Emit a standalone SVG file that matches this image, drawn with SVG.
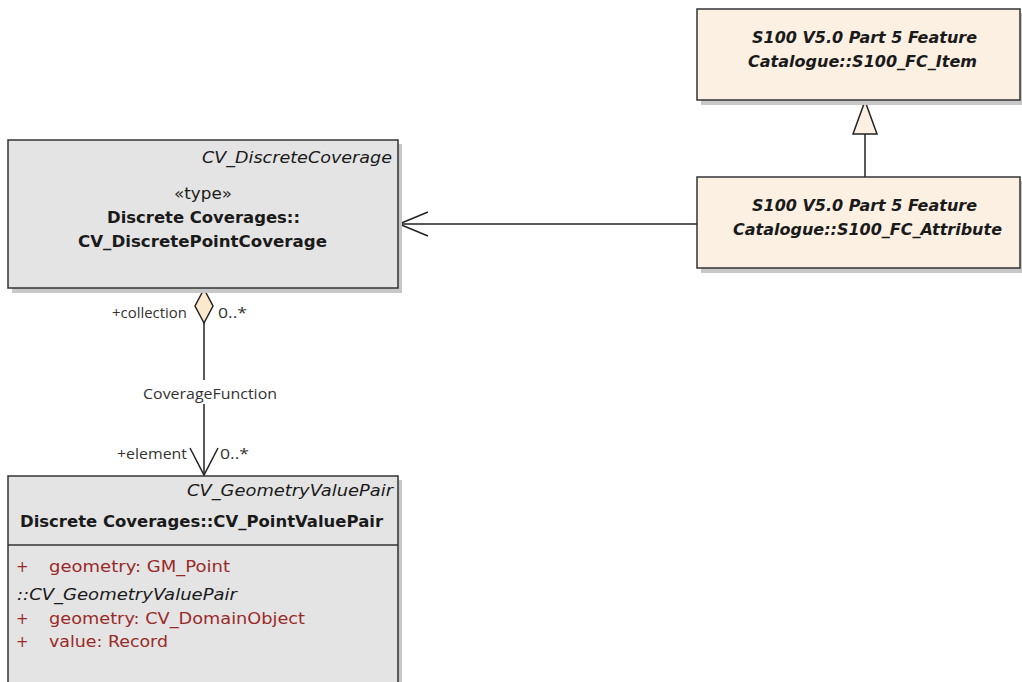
<svg xmlns="http://www.w3.org/2000/svg" width="1022" height="682" viewBox="0 0 1022 682">
<style>
.box{stroke:#333;stroke-width:1.5}
.gray{fill:#E4E4E4}
.beige{fill:#FCF0E3}
.shadow{fill:#C8C8C8}
.t{font-family:"DejaVu Sans","Liberation Sans",sans-serif;fill:#1a1a1a;font-size:15px}
.b{font-weight:bold}
.i{font-style:italic}
.attr{font-family:"DejaVu Sans","Liberation Sans",sans-serif;fill:#9A2A2A;font-size:15px}
.lbl{font-family:"Open Sans","Liberation Sans",sans-serif;font-size:14px;fill:#333}
.line{stroke:#222;stroke-width:1.5;fill:none}
</style>
<rect width="1022" height="682" fill="#fff"/>
<g id="connectors">
  <line class="line" x1="697" y1="224" x2="399" y2="224"/>
  <polyline class="line" points="428,212 399,224 428,236"/>
  <line class="line" x1="865" y1="177" x2="865" y2="134"/>
  <polygon points="865,101 877,134 853,134" fill="#FCF0E3" stroke="#222" stroke-width="1.5"/>
  <line class="line" x1="204" y1="323" x2="204" y2="380"/>
  <line class="line" x1="204" y1="404" x2="204" y2="475"/>
  <polygon points="204,289 213,306 204,323 195,306" fill="#FCE8CC" stroke="#222" stroke-width="1.5"/>
  <polyline class="line" points="190,448 204,475 218,448"/>
  <text class="lbl" x="143" y="399" textLength="134" lengthAdjust="spacingAndGlyphs">CoverageFunction</text>
  <text class="lbl" x="112" y="318" textLength="75" lengthAdjust="spacingAndGlyphs">+collection</text>
  <text class="lbl" x="218" y="318" textLength="29" lengthAdjust="spacingAndGlyphs">0..*</text>
  <text class="lbl" x="117" y="459" textLength="70" lengthAdjust="spacingAndGlyphs">+element</text>
  <text class="lbl" x="220" y="459" textLength="29" lengthAdjust="spacingAndGlyphs">0..*</text>
</g>
<g id="S100_FC_Item">
  <rect class="shadow" x="701" y="13" width="323" height="92"/>
  <rect class="box beige" x="697" y="9" width="323" height="91"/>
  <text class="t b i" x="752" y="43" textLength="225" lengthAdjust="spacingAndGlyphs">S100 V5.0 Part 5 Feature</text>
  <text class="t b i" x="748" y="67" textLength="229" lengthAdjust="spacingAndGlyphs">Catalogue::S100_FC_Item</text>
</g>
<g id="S100_FC_Attribute">
  <rect class="shadow" x="701" y="181" width="323" height="92"/>
  <rect class="box beige" x="697" y="177" width="323" height="91"/>
  <text class="t b i" x="752" y="211" textLength="225" lengthAdjust="spacingAndGlyphs">S100 V5.0 Part 5 Feature</text>
  <text class="t b i" x="733" y="235" textLength="269" lengthAdjust="spacingAndGlyphs">Catalogue::S100_FC_Attribute</text>
</g>
<g id="CV_DiscretePointCoverage">
  <rect class="shadow" x="12" y="144" width="390" height="149"/>
  <rect class="box gray" x="8" y="140" width="390" height="148"/>
  <text class="t i" x="202" y="163" textLength="190" lengthAdjust="spacingAndGlyphs">CV_DiscreteCoverage</text>
  <text class="t" x="174" y="199" textLength="58" lengthAdjust="spacingAndGlyphs">«type»</text>
  <text class="t b" x="107" y="223" textLength="193" lengthAdjust="spacingAndGlyphs">Discrete Coverages::</text>
  <text class="t b" x="78" y="247" textLength="249" lengthAdjust="spacingAndGlyphs">CV_DiscretePointCoverage</text>
</g>
<g id="CV_PointValuePair">
  <rect class="shadow" x="12" y="480" width="390" height="210"/>
  <rect class="box gray" x="8" y="476" width="390" height="210"/>
  <line class="box" x1="8" y1="545" x2="398" y2="545"/>
  <text class="t i" x="187" y="496" textLength="206" lengthAdjust="spacingAndGlyphs">CV_GeometryValuePair</text>
  <text class="t b" x="20" y="527" textLength="363" lengthAdjust="spacingAndGlyphs">Discrete Coverages::CV_PointValuePair</text>
  <text class="attr" x="16" y="572">+</text>
  <text class="attr" x="49" y="572" textLength="181" lengthAdjust="spacingAndGlyphs">geometry: GM_Point</text>
  <text class="t i" x="17" y="600" textLength="220" lengthAdjust="spacingAndGlyphs">::CV_GeometryValuePair</text>
  <text class="attr" x="16" y="624">+</text>
  <text class="attr" x="49" y="624" textLength="256" lengthAdjust="spacingAndGlyphs">geometry: CV_DomainObject</text>
  <text class="attr" x="16" y="647">+</text>
  <text class="attr" x="49" y="647" textLength="119" lengthAdjust="spacingAndGlyphs">value: Record</text>
</g>
</svg>
